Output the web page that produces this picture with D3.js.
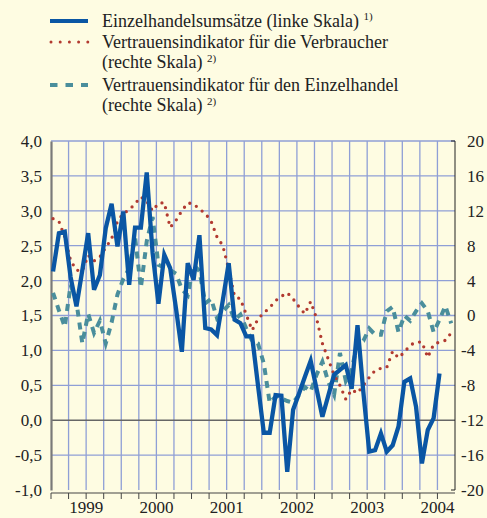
<!DOCTYPE html>
<html><head><meta charset="utf-8">
<script src="https://cdn.jsdelivr.net/npm/d3@7"></script>
<style>
html,body{margin:0;padding:0;background:#fefce2;}
svg{display:block;}
</style></head>
<body>
<script>
// ---- data (monthly, Jan 1999 = index 0) ----
const years = ["1999","2000","2001","2002","2003","2004"];
const leftTicks = [-1.0,-0.5,0.0,0.5,1.0,1.5,2.0,2.5,3.0,3.5,4.0];
const rightTicks = [-20,-16,-12,-8,-4,0,4,8,12,16,20];
// Einzelhandelsumsätze (linke Skala), Jan 1999 – Jul 2004
const retailSales = [2.13,2.68,2.70,2.05,1.63,2.15,2.68,1.87,2.08,2.75,3.10,2.49,
  2.99,1.94,2.76,2.76,3.55,2.40,1.67,2.37,2.18,1.60,0.98,2.25,
  2.01,2.65,1.32,1.30,1.22,1.72,2.25,1.44,1.39,1.20,1.20,0.50,
  -0.18,-0.18,0.36,0.35,-0.74,0.15,0.38,0.62,0.85,0.45,0.05,0.35,
  0.65,0.72,0.79,0.45,1.36,0.40,-0.45,-0.43,-0.19,-0.45,-0.36,-0.09,
  0.55,0.60,0.19,-0.62,-0.14,0.03,0.67];
// Vertrauensindikator für die Verbraucher (rechte Skala), Jan 1999 – Sep 2004
const consumerConf = [11.1,10.8,9.0,6.3,5.2,5.1,6.9,6.25,6.7,7.8,8.8,10.8,
  11.7,12.1,12.8,13.6,13.1,12.0,12.86,12.93,10.1,10.9,12.0,12.9,
  12.8,12.2,11.7,10.8,9.0,8.0,5.3,2.2,1.9,0.1,-1.7,-0.4,
  0.3,0.9,1.7,2.2,2.6,1.9,1.0,0.2,1.6,-0.3,-3.2,-5.0,
  -6.8,-8.0,-9.6,-8.5,-8.9,-8.0,-7.1,-6.3,-6.05,-5.95,-4.1,-4.85,
  -4.2,-3.4,-3.05,-3.05,-4.8,-3.3,-3.05,-2.85,-2.0];
// Vertrauensindikator für den Einzelhandel (rechte Skala), Jan 1999 – Sep 2004
const retailConf = [2.6,0.6,-1.3,3.5,1.5,-3.2,0.2,-2.0,-0.6,-3.2,-0.8,2.4,
  4.2,5.4,9.0,3.2,8.5,11.3,5.8,5.5,5.2,4.8,3.0,2.3,
  5.8,5.1,1.4,1.9,-0.3,0.5,1.2,-0.5,0.1,-1.5,-2.9,-3.2,
  -5.5,-10.0,-9.3,-9.5,-9.8,-10.0,-9.1,-8.2,-8.7,-6.8,-5.3,-7.6,
  -9.1,-4.3,-7.5,-6.2,-3.2,-2.9,-1.5,-2.2,-2.2,0.5,1.0,-1.9,
  0.0,-0.6,0.5,1.4,0.5,-1.9,-0.5,1.1,-0.9];
const nMonths = 69; // Jan 1999 – Sep 2004

const legendItems = [
  {label:"Einzelhandelsumsätze (linke Skala)", sup:"1)", line2:null, type:"solid"},
  {label:"Vertrauensindikator für die Verbraucher", sup:"2)", line2:"(rechte Skala)", type:"dot"},
  {label:"Vertrauensindikator für den Einzelhandel", sup:"2)", line2:"(rechte Skala)", type:"dash"}
];

// ---- styles ----
const W = 487, H = 518;
const bg = "#fefce2";
const gridColor = "#8f9fd6";
const blue = "#0a56a4";
const red = "#b23a30";
const teal = "#4a8e9c";
const textColor = "#222";
const font = "'Liberation Serif','Times New Roman',serif";
const axisFont = 17;
const legendFont = 18;

const svg = d3.select("body").append("svg").attr("width",W).attr("height",H)
  .style("background",bg).style("font-family",font);

const m = {left:51, right:455, top:141, bottom:490};
const x = d3.scaleLinear().domain([0,nMonths]).range([m.left, m.right]);
const yL = d3.scaleLinear().domain([-1,4]).range([m.bottom, m.top]);
const yR = d3.scaleLinear().domain([-20,20]).range([m.bottom, m.top]);

// vertical grid (quarters)
const quarters = d3.range(3, nMonths, 3);
svg.append("g").selectAll("line").data(quarters).join("line")
  .attr("x1",d=>x(d)).attr("x2",d=>x(d)).attr("y1",m.top).attr("y2",m.bottom)
  .attr("stroke",gridColor).attr("stroke-width",1.3);
// horizontal grid
svg.append("g").selectAll("line").data(leftTicks.filter(d=>d!==0 && d!==-1)).join("line")
  .attr("x1",m.left).attr("x2",m.right).attr("y1",d=>yL(d)).attr("y2",d=>yL(d))
  .attr("stroke",gridColor).attr("stroke-width",1.3);
// zero line
svg.append("line").attr("x1",m.left).attr("x2",m.right).attr("y1",yL(0)).attr("y2",yL(0))
  .attr("stroke","#666").attr("stroke-width",1.6);

// left axis
const axL = svg.append("g").attr("transform",`translate(${m.left},0)`)
  .call(d3.axisLeft(yL).tickValues(leftTicks).tickSize(0).tickPadding(9)
    .tickFormat(d=>d3.format(".1f")(d).replace(".",",").replace("−","-")));
axL.select(".domain").attr("stroke","#7a7a7a").attr("stroke-width",2.2);
axL.selectAll("text").attr("font-size",axisFont).attr("fill",textColor).attr("font-family",font);

// right axis
svg.append("line").attr("x1",m.right).attr("x2",m.right).attr("y1",m.top).attr("y2",m.bottom)
  .attr("stroke","#222").attr("stroke-width",1);
svg.append("g").selectAll("line").data([m.top,m.bottom]).join("line")
  .attr("x1",m.right-4).attr("x2",m.right).attr("y1",d=>d).attr("y2",d=>d)
  .attr("stroke","#222").attr("stroke-width",1);
svg.append("g").selectAll("text").data(rightTicks).join("text")
  .attr("x",d=>d<0?461:467).attr("y",d=>yR(d)).attr("dy","0.35em")
  .attr("font-size",axisFont).attr("fill",textColor).text(d=>d);

// bottom axis
const xa = svg.append("g");
xa.append("line").attr("x1",m.left).attr("x2",m.right).attr("y1",m.bottom+3).attr("y2",m.bottom+3)
  .attr("stroke","#444").attr("stroke-width",1);
xa.selectAll("line.t").data(d3.range(0,nMonths,3)).join("line").attr("class","t")
  .attr("x1",d=>x(d)).attr("x2",d=>x(d)).attr("y1",m.bottom+3).attr("y2",m.bottom+9)
  .attr("stroke","#444").attr("stroke-width",1);
xa.selectAll("text").data(years).join("text")
  .attr("x",(d,i)=>x(i*12+6)).attr("y",513).attr("text-anchor","middle")
  .attr("font-size",axisFont).attr("fill",textColor).text(d=>d);

// series
const px = i => x(i+0.35);
const lineL = d3.line().x((d,i)=>px(i)).y(d=>yL(d));
const lineR = d3.line().x((d,i)=>px(i)).y(d=>yR(d));

svg.append("path").datum(retailConf).attr("d",lineR).attr("fill","none")
  .attr("stroke",teal).attr("stroke-width",4).attr("stroke-dasharray","7,6");
svg.append("path").datum(consumerConf).attr("d",lineR).attr("fill","none")
  .attr("stroke",red).attr("stroke-width",3.3).attr("stroke-linecap","round")
  .attr("stroke-dasharray","0,7.5");
svg.append("path").datum(retailSales).attr("d",lineL).attr("fill","none")
  .attr("stroke",blue).attr("stroke-width",4.3).attr("stroke-linejoin","miter");

// legend
const lg = svg.append("g");
const rowsY = [21, 42, 85];
legendItems.forEach((it,i)=>{
  const y = rowsY[i];
  const l = lg.append("line").attr("x1",50).attr("x2",88).attr("y1",y).attr("y2",y).attr("fill","none");
  if(it.type==="solid") l.attr("stroke",blue).attr("stroke-width",4);
  if(it.type==="dot") l.attr("x1",51).attr("stroke",red).attr("stroke-width",3).attr("stroke-linecap","round").attr("stroke-dasharray","0,9.2");
  if(it.type==="dash") l.attr("stroke",teal).attr("stroke-width",4).attr("stroke-dasharray","7.5,8");
  const t = lg.append("text").attr("x",102).attr("y",y).attr("dy","0.33em")
    .attr("font-size",legendFont).attr("fill",textColor);
  if(it.line2){
    t.text(it.label);
    const t2 = lg.append("text").attr("x",102).attr("y",y+20).attr("dy","0.33em")
      .attr("font-size",legendFont).attr("fill",textColor);
    t2.append("tspan").text(it.line2+" ");
    t2.append("tspan").attr("font-size",11).attr("dy","-0.5em").text(it.sup);
  } else {
    t.append("tspan").text(it.label+" ");
    t.append("tspan").attr("font-size",11).attr("dy","-0.6em").text(it.sup);
  }
});
</script>
</body></html>
